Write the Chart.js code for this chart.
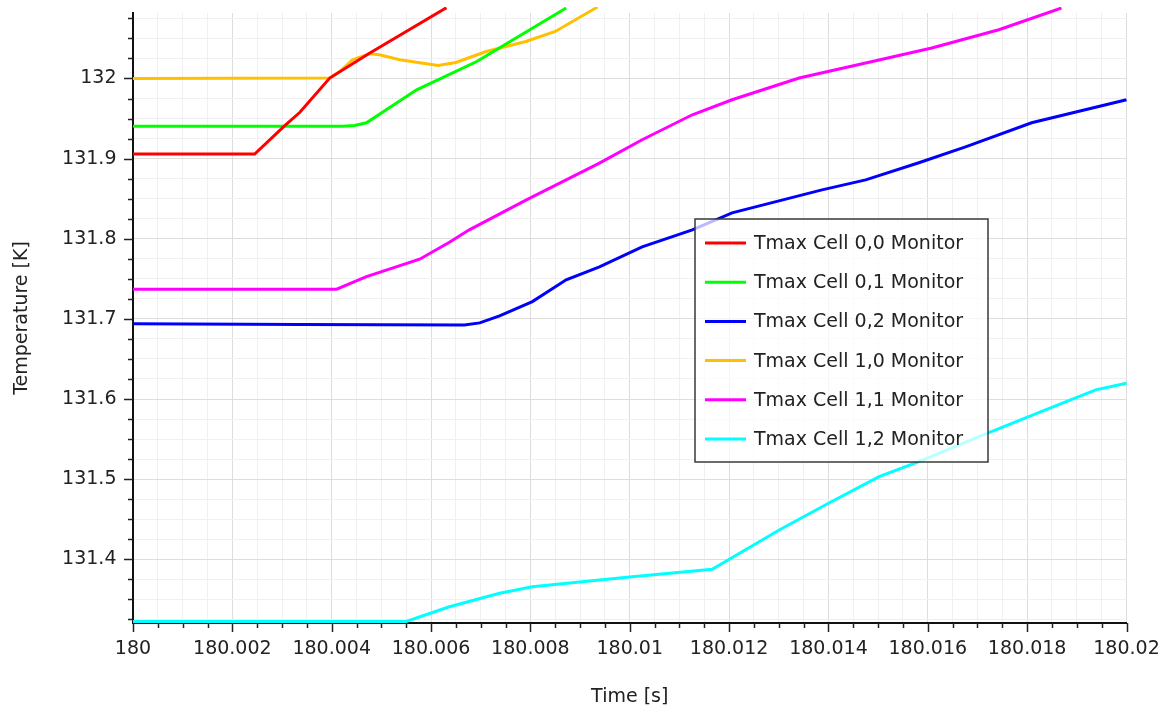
<!DOCTYPE html>
<html>
<head>
<meta charset="utf-8">
<title>Tmax Cell Monitors</title>
<script src="https://cdn.jsdelivr.net/npm/chart.js@4.4.0/dist/chart.umd.min.js"></script>
<style>
  html, body { margin: 0; padding: 0; background: #fff; }
  #wrap { width: 1166px; height: 710px; }
</style>
</head>
<body>
<div id="wrap"><canvas id="chart" width="1166" height="710"></canvas></div>
<script>
'use strict';

// --- data ---
var seriesLabels = [
  'Tmax Cell 0,0 Monitor', 'Tmax Cell 0,1 Monitor', 'Tmax Cell 0,2 Monitor',
  'Tmax Cell 1,0 Monitor', 'Tmax Cell 1,1 Monitor', 'Tmax Cell 1,2 Monitor'
];

var tCell00 = [180, 180.00245, 180.00305, 180.00336, 180.00396, 180.00476, 180.00631];
var TCell00 = [131.9056, 131.9056, 131.9409, 131.9578, 132.0005, 132.0315, 132.0883];

var tCell01 = [180, 180.00422, 180.00446, 180.0047, 180.00571, 180.00692, 180.00872];
var TCell01 = [131.9403, 131.9403, 131.9413, 131.9447, 131.9859, 132.0212, 132.0879];

var tCell02 = [180, 180.00336, 180.00667, 180.00698, 180.00738, 180.00804, 180.00872, 180.00939,
               180.01025, 180.01126, 180.01206, 180.01387, 180.01475, 180.01582, 180.01676, 180.01809, 180.02];
var TCell02 = [131.6938, 131.6931, 131.6925, 131.6950, 131.7038, 131.7216, 131.7487, 131.7649,
               131.7899, 131.8111, 131.8323, 131.8610, 131.8735, 131.8948, 131.9147, 131.9447, 131.9734];

var tCell10 = [180, 180.00396, 180.00416, 180.00442, 180.00476, 180.00496, 180.00537, 180.00614,
               180.0065, 180.00711, 180.00791, 180.0085, 180.00935];
var TCell10 = [132.0, 132.0005, 132.0087, 132.0233, 132.0308, 132.0296, 132.0233, 132.0163,
               132.0200, 132.0337, 132.0462, 132.0587, 132.0891];

var tCell11 = [180, 180.0041, 180.0047, 180.00577, 180.00637, 180.00677, 180.00792, 180.00939,
               180.01025, 180.01126, 180.01206, 180.01341, 180.01475, 180.01608, 180.01743, 180.01869];
var TCell11 = [131.7371, 131.7371, 131.7528, 131.7745, 131.7957, 131.8111, 131.8486, 131.8944,
               131.9235, 131.9547, 131.9734, 132.0005, 132.0192, 132.0380, 132.0608, 132.0879];

var tCell12 = [180, 180.0055, 180.00637, 180.00738, 180.00804, 180.00939, 180.01005, 180.01166,
               180.01301, 180.01401, 180.01502, 180.01582, 180.01703, 180.01837, 180.01938, 180.02];
var TCell12 = [131.3224, 131.3224, 131.3408, 131.3576, 131.3658, 131.3742, 131.3783, 131.3875,
               131.4366, 131.4703, 131.5031, 131.5219, 131.5531, 131.5864, 131.6114, 131.6197];

var xMajorTicks = [180, 180.002, 180.004, 180.006, 180.008, 180.01, 180.012, 180.014, 180.016, 180.018, 180.02];
var xTickLabels = ['180', '180.002', '180.004', '180.006', '180.008', '180.01',
                   '180.012', '180.014', '180.016', '180.018', '180.02'];
var yMajorTicks = [131.4, 131.5, 131.6, 131.7, 131.8, 131.9, 132];
var yTickLabels = ['131.4', '131.5', '131.6', '131.7', '131.8', '131.9', '132'];

// --- axis setup ---
var X_MIN = 180, X_MAX = 180.02, X_MINOR = 0.0005;
var Y_MIN = 131.3205, Y_MAX = 132.0817, Y_MINOR = 0.025, Y_MINOR_BASE = 131.3;

var FONT = 'DejaVu Sans';
var TEXT = '#222';
var COLORS = ['#ff0000', '#00ff00', '#0000ff', '#ffc000', '#ff00ff', '#00ffff'];

function toPoints(ts, vs) {
  return ts.map(function (t, i) { return { x: t, y: vs[i] }; });
}

function majorIndex(list, v, eps) {
  for (var i = 0; i < list.length; i++) {
    if (Math.abs(list[i] - v) < eps) return i;
  }
  return -1;
}

function minorTicks(from, to, step) {
  var out = [];
  var n = Math.ceil((from - 1e-9) / step);
  for (var v = n * step; v <= to + 1e-9; v = (++n) * step) {
    out.push({ value: +v.toFixed(7) });
  }
  return out;
}

// keep label overhang from pushing the plot area around
function noScalePadding(s) {
  s.paddingTop = 0; s.paddingBottom = 0; s.paddingLeft = 0; s.paddingRight = 0;
}

var gridColor = function (c) {
  return c.tick && c.tick.label ? '#dddddd' : '#f0f0f0';
};

// tick marks outside the axes: long for labelled ticks, short for minor ones
var tickMarks = {
  id: 'tickMarks',
  afterDraw: function (chart) {
    var ctx = chart.ctx, a = chart.chartArea;
    var xs = chart.scales.x, ys = chart.scales.y;
    ctx.save();
    ctx.strokeStyle = '#222';
    ctx.lineWidth = 1.5;
    ctx.beginPath();
    xs.ticks.forEach(function (t) {
      var px = Math.round(xs.getPixelForValue(t.value)) + 0.5;
      ctx.moveTo(px, a.bottom);
      ctx.lineTo(px, a.bottom + (t.label ? 9 : 5));
    });
    ys.ticks.forEach(function (t) {
      var py = Math.round(ys.getPixelForValue(t.value)) + 0.5;
      ctx.moveTo(a.left, py);
      ctx.lineTo(a.left - (t.label ? 9 : 5), py);
    });
    ctx.stroke();
    ctx.restore();
  }
};

// boxed legend placed inside the plot
var boxLegend = {
  id: 'boxLegend',
  afterDatasetsDraw: function (chart) {
    var ctx = chart.ctx, a = chart.chartArea;
    var left = a.left + 562, top = a.top + 206, w = 293, h = 243;
    ctx.save();
    ctx.fillStyle = 'rgba(255,255,255,0.72)';
    ctx.fillRect(left, top, w, h);
    ctx.strokeStyle = '#3a3a3a';
    ctx.lineWidth = 1.5;
    ctx.strokeRect(left, top, w, h);
    ctx.font = '19px "' + FONT + '"';
    ctx.textBaseline = 'middle';
    ctx.fillStyle = TEXT;
    chart.data.datasets.forEach(function (ds, i) {
      var y = top + 24 + i * 39.2;
      ctx.strokeStyle = ds.borderColor;
      ctx.lineWidth = 3;
      ctx.beginPath();
      ctx.moveTo(left + 10, y);
      ctx.lineTo(left + 51, y);
      ctx.stroke();
      ctx.fillText(ds.label, left + 59, y + 1);
    });
    ctx.restore();
  }
};

var seriesT = [tCell00, tCell01, tCell02, tCell10, tCell11, tCell12];
var seriesV = [TCell00, TCell01, TCell02, TCell10, TCell11, TCell12];

var datasets = seriesLabels.map(function (lab, i) {
  return {
    label: lab,
    data: toPoints(seriesT[i], seriesV[i]),
    borderColor: COLORS[i],
    backgroundColor: COLORS[i],
    borderWidth: 3,
    pointRadius: 0,
    tension: 0,
    fill: false,
    clip: { left: 2, top: 6, right: 3, bottom: 2 }
  };
});

new Chart(document.getElementById('chart'), {
  type: 'line',
  data: { datasets: datasets },
  plugins: [tickMarks, boxLegend],
  options: {
    responsive: false,
    animation: false,
    layout: { padding: { left: 0, top: 13, right: 39.5, bottom: 0 } },
    plugins: { legend: { display: false }, tooltip: { enabled: false } },
    scales: {
      x: {
        type: 'linear',
        min: X_MIN,
        max: X_MAX,
        afterBuildTicks: function (s) { s.ticks = minorTicks(X_MIN, X_MAX, X_MINOR); },
        afterFit: function (s) { s.height = 87; noScalePadding(s); },
        ticks: {
          autoSkip: false,
          maxRotation: 0,
          padding: 15,
          color: TEXT,
          font: { family: FONT, size: 19 },
          callback: function (v) {
            var i = majorIndex(xMajorTicks, v, 1e-7);
            return i < 0 ? '' : xTickLabels[i];
          }
        },
        grid: { color: gridColor, lineWidth: 1, drawTicks: false },
        border: { display: true, color: '#111', width: 2 },
        title: {
          display: true,
          text: 'Time [s]',
          color: TEXT,
          font: { family: FONT, size: 19 },
          padding: { top: 0, bottom: 2 }
        }
      },
      y: {
        type: 'linear',
        min: Y_MIN,
        max: Y_MAX,
        afterBuildTicks: function (s) {
          s.ticks = minorTicks(Y_MIN - Y_MINOR_BASE, Y_MAX - Y_MINOR_BASE, Y_MINOR)
            .map(function (t) { return { value: +(t.value + Y_MINOR_BASE).toFixed(5) }; });
        },
        afterFit: function (s) { s.width = 133; noScalePadding(s); },
        ticks: {
          autoSkip: false,
          padding: 16.5,
          color: TEXT,
          font: { family: FONT, size: 19 },
          callback: function (v) {
            var i = majorIndex(yMajorTicks, v, 1e-6);
            return i < 0 ? '' : yTickLabels[i];
          }
        },
        grid: { color: gridColor, lineWidth: 1, drawTicks: false },
        border: { display: true, color: '#111', width: 2 },
        title: {
          display: true,
          text: 'Temperature [K]',
          color: TEXT,
          font: { family: FONT, size: 19 },
          padding: { top: 11, bottom: 0 }
        }
      }
    }
  }
});
</script>
</body>
</html>
